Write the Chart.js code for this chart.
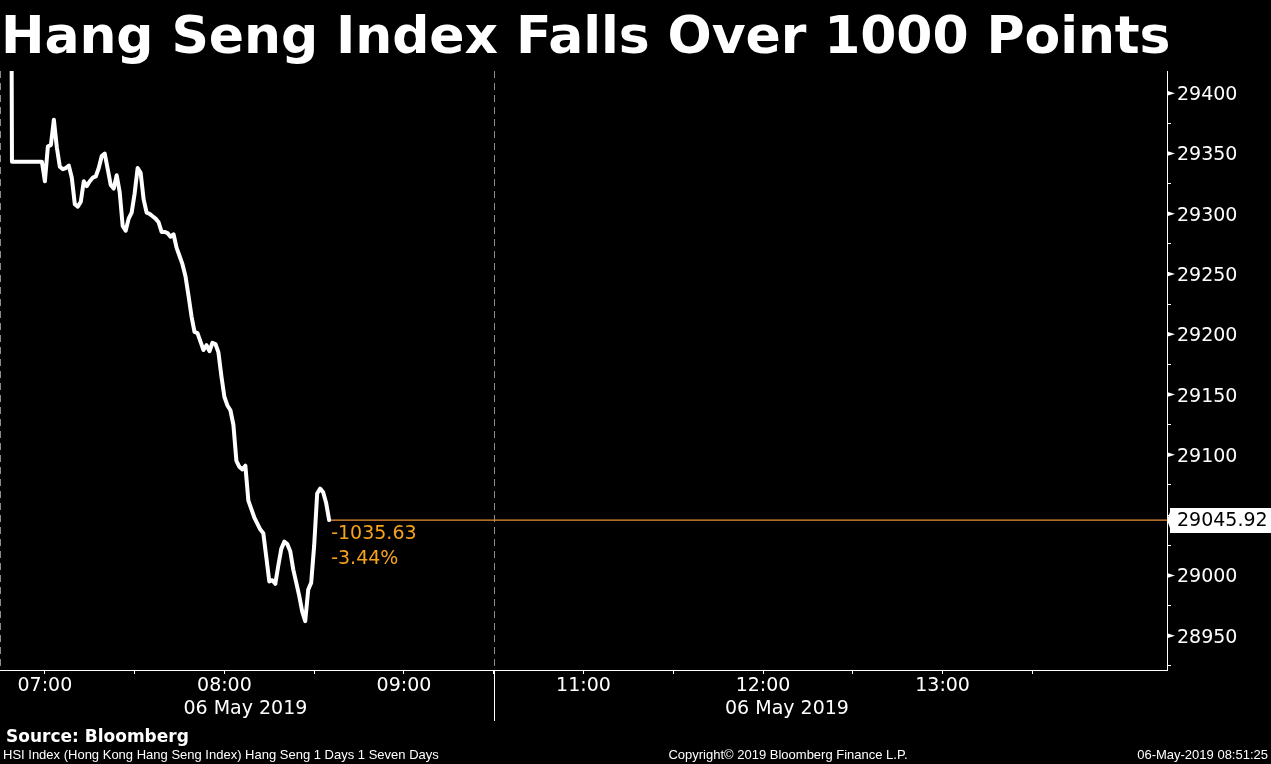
<!DOCTYPE html>
<html>
<head>
<meta charset="utf-8">
<script src="https://cdn.jsdelivr.net/npm/chart.js@4.4.0/dist/chart.umd.min.js"></script>
<style>
  html, body { margin: 0; padding: 0; background: #000; }
  body { width: 1271px; height: 764px; position: relative; overflow: hidden; color: #fff; font-family: "DejaVu Sans", sans-serif; }
  #wrap { position: absolute; left: 0; top: 0; width: 1271px; height: 764px; }
  .title { position: absolute; left: 1px; top: 9px; font: bold 52px/52px "DejaVu Sans", sans-serif; letter-spacing: -0.1px; white-space: nowrap; }
  .source { position: absolute; left: 6px; top: 726px; font: bold 17px/20px "DejaVu Sans", sans-serif; white-space: nowrap; }
  .foot { position: absolute; top: 747px; font: 13px/16px "Liberation Sans", Arial, sans-serif; white-space: nowrap; }
</style>
</head>
<body>
<div id="wrap"><canvas id="chart" width="1271" height="764"></canvas></div>
<div class="title">Hang Seng Index Falls Over 1000 Points</div>
<div class="source">Source: Bloomberg</div>
<div class="foot" style="left:3px">HSI Index (Hong Kong Hang Seng Index) Hang Seng 1 Days 1 Seven Days</div>
<div class="foot" style="left:788px; transform:translateX(-50%)">Copyright© 2019 Bloomberg Finance L.P.</div>
<div class="foot" style="right:3px">06-May-2019 08:51:25</div>
<script>
// previous close, then one close per minute
const prevClose = 30081.55;

const times = [
  '06:48', '06:49', '06:50', '06:51', '06:52', '06:53', '06:54', '06:55', '06:56', '06:57',
  '06:58', '06:59', '07:00', '07:01', '07:02', '07:03', '07:04', '07:05', '07:06', '07:07',
  '07:08', '07:09', '07:10', '07:11', '07:12', '07:13', '07:14', '07:15', '07:16', '07:17',
  '07:18', '07:19', '07:20', '07:21', '07:22', '07:23', '07:24', '07:25', '07:26', '07:27',
  '07:28', '07:29', '07:30', '07:31', '07:32', '07:33', '07:34', '07:35', '07:36', '07:37',
  '07:38', '07:39', '07:40', '07:41', '07:42', '07:43', '07:44', '07:45', '07:46', '07:47',
  '07:48', '07:49', '07:50', '07:51', '07:52', '07:53', '07:54', '07:55', '07:56', '07:57',
  '07:58', '07:59', '08:00', '08:01', '08:02', '08:03', '08:04', '08:05', '08:06', '08:07',
  '08:08', '08:09', '08:10', '08:11', '08:12', '08:13', '08:14', '08:15', '08:16', '08:17',
  '08:18', '08:19', '08:20', '08:21', '08:22', '08:23', '08:24', '08:25', '08:26', '08:27',
  '08:28', '08:29', '08:30', '08:31', '08:32', '08:33', '08:34', '08:35'
];

const closes = [
  30081.55, 29343.3, 29343.3, 29343.3, 29343.3, 29343.3, 29343.3, 29343.3, 29343.3, 29343.3,
  29343.3, 29343.3, 29327, 29356, 29357, 29378, 29355, 29339, 29337, 29338,
  29340, 29330, 29308, 29306, 29310, 29327, 29323, 29327, 29330, 29331,
  29338, 29348, 29350, 29337, 29324, 29321, 29332, 29318, 29290, 29286,
  29296, 29301, 29317, 29338, 29334, 29312, 29301, 29300, 29298, 29296,
  29293, 29285, 29285, 29284, 29281, 29283, 29272, 29265, 29258, 29248,
  29232, 29215, 29202, 29201, 29194, 29187, 29191, 29186, 29193, 29192,
  29185, 29165, 29148, 29141, 29137, 29125, 29095, 29090, 29088, 29091,
  29062, 29055, 29048, 29043, 29038, 29035, 29015, 28995, 28996, 28993,
  29008, 29022, 29028, 29026, 29020, 29005, 28994, 28983, 28970, 28962,
  28988, 28994, 29025, 29068, 29072, 29069, 29060, 29045.92
];

const xTickTimes = ['07:00', '07:30', '08:00', '08:30', '09:00', '09:30', '11:00', '11:30', '12:00', '12:30', '13:00', '13:30'];
const xRange = ['06:45', '14:15'];
const sessionBreak = '09:30';  // 09:30 and 10:30 share one spot on the axis
const dateLabel = '06 May 2019';
const dateLabelAt = ['08:07', '12:08'];

const yTicks = [28925, 28950, 28975, 29000, 29025, 29050, 29075, 29100, 29125, 29150,
  29175, 29200, 29225, 29250, 29275, 29300, 29325, 29350, 29375, 29400];
const yRange = [28921.5, 29418.5];

const lineColor = '#ffffff';
const lastColor = '#eb8f34';
const noteColor = '#f5a21c';

function toAxis(t) {
  const [h, m] = t.split(':').map(Number);
  let mins = h * 60 + m - 7 * 60;
  if (mins >= 210) mins -= 60;
  return mins;
}

const last = closes[closes.length - 1];
const lastTime = times[times.length - 1];

// labelled ticks, minus the one hidden under the last price tag
const isLabelled = v => v % 50 === 0 && Math.abs(v - last) > 15;

const overlay = {
  id: 'overlay',
  beforeDatasetsDraw(chart) {
    const { ctx, chartArea: a, scales: { x } } = chart;
    ctx.save();
    ctx.strokeStyle = '#8c8c8c';
    ctx.lineWidth = 1;
    ctx.setLineDash([7, 5]);
    [xRange[0], sessionBreak].forEach(t => {
      const px = Math.round(x.getPixelForValue(toAxis(t))) + 0.5;
      ctx.beginPath();
      ctx.moveTo(px, a.top);
      ctx.lineTo(px, a.bottom);
      ctx.stroke();
    });
    ctx.restore();
  },
  afterDraw(chart) {
    const { ctx, chartArea: a, scales: { x, y } } = chart;
    ctx.save();

    // session separator under the axis
    const bx = Math.round(x.getPixelForValue(toAxis(sessionBreak))) + 0.5;
    ctx.strokeStyle = '#fff';
    ctx.lineWidth = 1;
    ctx.beginPath();
    ctx.moveTo(bx, a.bottom);
    ctx.lineTo(bx, a.bottom + 51);
    ctx.stroke();

    // date row
    ctx.fillStyle = '#fff';
    ctx.font = '19px "DejaVu Sans"';
    ctx.textAlign = 'center';
    ctx.textBaseline = 'middle';
    dateLabelAt.forEach(t => ctx.fillText(dateLabel, x.getPixelForValue(toAxis(t)), a.bottom + 39));

    // little flags at labelled y ticks
    yTicks.filter(isLabelled).forEach(v => {
      const py = y.getPixelForValue(v);
      ctx.beginPath();
      ctx.moveTo(a.right, py - 2.5);
      ctx.lineTo(a.right + 8, py);
      ctx.lineTo(a.right, py + 2.5);
      ctx.closePath();
      ctx.fill();
    });

    // change notes next to the last point
    const lx = x.getPixelForValue(toAxis(lastTime));
    const ly = y.getPixelForValue(last);
    const change = last - prevClose;
    ctx.fillStyle = noteColor;
    ctx.textAlign = 'left';
    ctx.fillText(change.toFixed(2), lx + 2, ly + 14);
    ctx.fillText((change / prevClose * 100).toFixed(2) + '%', lx + 2, ly + 39);

    // last price tag
    ctx.fillStyle = '#fff';
    ctx.beginPath();
    ctx.moveTo(a.right, ly);
    ctx.lineTo(a.right + 3, ly - 8);
    ctx.lineTo(a.right + 3, ly - 12);
    ctx.lineTo(chart.width, ly - 12);
    ctx.lineTo(chart.width, ly + 13);
    ctx.lineTo(a.right + 3, ly + 13);
    ctx.lineTo(a.right + 3, ly + 8);
    ctx.closePath();
    ctx.fill();
    ctx.fillStyle = '#000';
    ctx.fillText(last.toFixed(2), a.right + 10, ly + 1);

    ctx.restore();
  }
};

new Chart(document.getElementById('chart'), {
  type: 'line',
  data: {
    datasets: [
      {
        label: 'HSI',
        data: times.map((t, i) => ({ x: toAxis(t), y: closes[i] })),
        borderColor: lineColor,
        borderWidth: 4,
        borderJoinStyle: 'round',
        borderCapStyle: 'round',
        pointRadius: 0,
        tension: 0,
      },
      {
        label: 'Last',
        data: [{ x: toAxis(lastTime), y: last }, { x: toAxis(xRange[1]), y: last }],
        borderColor: lastColor,
        borderWidth: 1.2,
        pointRadius: 0,
      },
    ],
  },
  options: {
    responsive: false,
    animation: false,
    layout: { padding: { top: 71 } },
    plugins: { legend: { display: false }, tooltip: { enabled: false } },
    scales: {
      x: {
        type: 'linear',
        min: toAxis(xRange[0]),
        max: toAxis(xRange[1]),
        afterBuildTicks: s => { s.ticks = xTickTimes.map(t => ({ value: toAxis(t) })); },
        afterFit: s => { s.height = 94; },
        border: { color: '#fff' },
        grid: { drawOnChartArea: false, tickLength: 4, color: '#fff' },
        ticks: {
          color: '#fff',
          font: { family: 'DejaVu Sans', size: 19 },
          padding: 1,
          maxRotation: 0,
          autoSkip: false,
          callback: (v, i) => xTickTimes[i].endsWith(':00') ? xTickTimes[i] : '',
        },
      },
      y: {
        position: 'right',
        min: yRange[0],
        max: yRange[1],
        afterBuildTicks: s => { s.ticks = yTicks.map(v => ({ value: v })); },
        afterFit: s => { s.width = 104; },
        border: { color: '#fff' },
        grid: { drawOnChartArea: false, tickLength: 4, color: '#fff' },
        ticks: {
          color: '#fff',
          font: { family: 'DejaVu Sans', size: 19 },
          padding: 6,
          labelOffset: 2,
          callback: v => isLabelled(v) ? String(v) : '',
        },
      },
    },
  },
  plugins: [overlay],
});
</script>
</body>
</html>
